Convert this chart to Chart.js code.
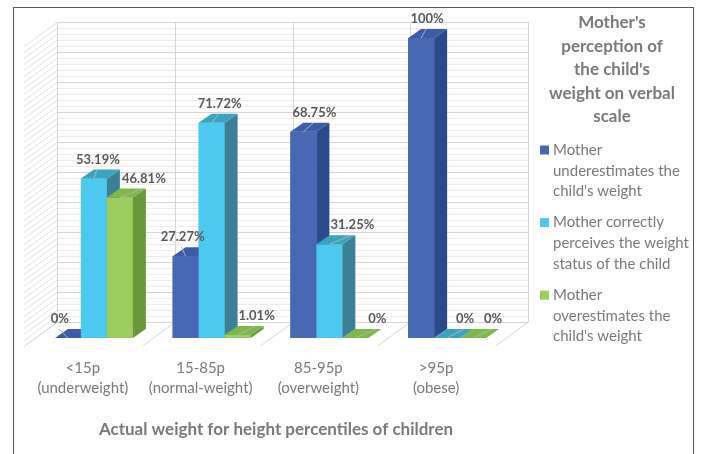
<!DOCTYPE html>
<html>
<head>
<meta charset="utf-8">
<script src="https://cdn.jsdelivr.net/npm/chart.js@4.4.1/dist/chart.umd.min.js"></script>
<style>
  html, body { margin: 0; padding: 0; background: #ffffff; }
  #chart { display: block; }
</style>
</head>
<body>
<canvas id="chart" width="701" height="454"></canvas>
<script>
/* --------------- Data --------------------- */
const categories = [
  ["<15p", "(underweight)"],
  ["15-85p", "(normal-weight)"],
  ["85-95p", "(overweight)"],
  [">95p", "(obese)"],
];
const underestimates = [0, 27.27, 68.75, 100];
const correctly = [53.19, 71.72, 31.25, 0];
const overestimates = [46.81, 1.01, 0, 0];
const seriesNames = [
  "Mother underestimates the child's weight",
  "Mother correctly perceives the weight status of the child",
  "Mother overestimates the child's weight",
];
const legendTitle = ["Mother's", "perception of", "the child's", "weight on verbal", "scale"];
const axisTitle = "Actual weight for height percentiles of children";

/* --------------- Look --------------------- */
const FONT = "Lato, 'Open Sans', sans-serif";
const GREY = "#7a7a7a";
const faces = [
  { front: "#4868b3", side: "#2b4a8c", top: "#3b5ca8" },
  { front: "#4dc8ef", side: "#3a8197", top: "#3ba2c0" },
  { front: "#9ccd5e", side: "#67983a", top: "#7db848" },
];
const FLOOR = { x: 33, y: -24 };   // full depth of floor / left wall
const FRONT = 1 / 3;               // where the bar fronts sit inside that depth
const BAR_DEPTH = { x: 13, y: -9 };
// horizontal nudge of each value label (per series, per category)
const labelShift = [[-8, -3, 11, 6], [4, 8, 23, 18], [24, 19, 22, 20]];

/* --------------- Back wall, left wall, floor --------------------- */
const wallsPlugin = {
  id: "walls",
  beforeDatasetsDraw(chart) {
    const { ctx, chartArea: a, scales: { x, y } } = chart;
    const bx = FLOOR.x * (1 - FRONT), by = FLOOR.y * (1 - FRONT);
    const step = a.width / categories.length;
    const left = a.left + bx, right = a.right + bx;
    ctx.save();
    ctx.lineWidth = 1;
    for (let v = 0; v <= 100; v += 2) {
      const yy = Math.round(y.getPixelForValue(v) + by) + 0.5;
      ctx.strokeStyle = v % 10 === 0 ? "#d6d6d6" : "#ececec";
      ctx.beginPath();
      ctx.moveTo(left, yy);
      ctx.lineTo(right, yy);
      ctx.stroke();
      ctx.strokeStyle = "#e2e2e2";
      ctx.beginPath();
      ctx.moveTo(left, yy);
      ctx.lineTo(left - FLOOR.x, yy - FLOOR.y);
      ctx.stroke();
    }
    const y0 = y.getPixelForValue(0) + by, y100 = y.getPixelForValue(100) + by;
    for (let k = 0; k <= categories.length; k++) {
      const xx = Math.round(a.left + k * step + bx) + 0.5;
      ctx.strokeStyle = "#d6d6d6";
      ctx.beginPath();
      ctx.moveTo(xx, y100);
      ctx.lineTo(xx, y0);
      ctx.stroke();
      ctx.beginPath();
      ctx.moveTo(xx, y0);
      ctx.lineTo(xx - FLOOR.x, y0 - FLOOR.y);
      ctx.stroke();
    }
    ctx.restore();
  },
  /* --------------- 3D bars and value labels --------------------- */
  afterDatasetsDraw(chart) {
    const { ctx, chartArea } = chart;
    ctx.save();
    chart.data.datasets.forEach((ds, d) => {
      const c = faces[d];
      chart.getDatasetMeta(d).data.forEach((bar) => {
        const { x, y, base, width } = bar.getProps(["x", "y", "base", "width"], true);
        const x0 = x - width / 2, x1 = x + width / 2;
        bar.draw(ctx, chartArea);
        ctx.fillStyle = c.side;
        ctx.beginPath();
        ctx.moveTo(x1, y);
        ctx.lineTo(x1 + BAR_DEPTH.x, y + BAR_DEPTH.y);
        ctx.lineTo(x1 + BAR_DEPTH.x, base + BAR_DEPTH.y);
        ctx.lineTo(x1, base);
        ctx.closePath();
        ctx.fill();
        ctx.fillStyle = c.top;
        ctx.beginPath();
        ctx.moveTo(x0, y);
        ctx.lineTo(x1, y);
        ctx.lineTo(x1 + BAR_DEPTH.x, y + BAR_DEPTH.y);
        ctx.lineTo(x0 + BAR_DEPTH.x, y + BAR_DEPTH.y);
        ctx.closePath();
        ctx.fill();
      });
    });
    ctx.font = "bold 13px " + FONT;
    ctx.textAlign = "center";
    ctx.textBaseline = "middle";
    chart.data.datasets.forEach((ds, d) => {
      chart.getDatasetMeta(d).data.forEach((bar, i) => {
        const { x, y } = bar.getProps(["x", "y"], true);
        const lx = x + labelShift[d][i], ly = y - 19;
        ctx.strokeStyle = "#b4b4b4";
        ctx.lineWidth = 1;
        ctx.beginPath();
        ctx.moveTo(x, y);
        ctx.lineTo(lx - 1, ly + 10);
        ctx.stroke();
        ctx.fillStyle = "#595959";
        ctx.fillText(ds.data[i] + "%", lx, ly);
      });
    });
    ctx.restore();
  },
  /* --------------- Legend, axis title, frame --------------------- */
  afterDraw(chart) {
    const { ctx, chartArea: a } = chart;
    ctx.save();
    ctx.fillStyle = GREY;
    ctx.textBaseline = "middle";
    ctx.textAlign = "center";
    ctx.font = "bold 17px " + FONT;
    ctx.fillText(axisTitle, (a.left - FLOOR.x * FRONT + a.right + FLOOR.x * (1 - FRONT)) / 2, 430);

    ctx.font = "bold 17px " + FONT;
    legendTitle.forEach((line, i) => ctx.fillText(line, 612, 23 + i * 23.5));

    ctx.font = "15px " + FONT;
    ctx.textAlign = "left";
    let top = 150;
    chart.data.datasets.forEach((ds, d) => {
      const words = ds.label.split(" ");
      const lines = [];
      let cur = "";
      words.forEach((w) => {
        const t = cur ? cur + " " + w : w;
        if (cur && ctx.measureText(t).width > 138) { lines.push(cur); cur = w; } else cur = t;
      });
      lines.push(cur);
      ctx.fillStyle = faces[d].front;
      ctx.fillRect(540, top - 4.5, 9, 9);
      ctx.fillStyle = GREY;
      lines.forEach((l, j) => ctx.fillText(l, 553, top + j * 20.7));
      top += lines.length * 20.7 + 10.5;
    });

    ctx.strokeStyle = "#595959";
    ctx.lineWidth = 1;
    ctx.strokeRect(13.5, 7.5, 680, 460);
    ctx.restore();
  },
};

/* --------------- Chart --------------------- */
new Chart(document.getElementById("chart"), {
  type: "bar",
  plugins: [wallsPlugin],
  data: {
    labels: categories,
    datasets: [
      { label: seriesNames[0], data: underestimates, backgroundColor: faces[0].front },
      { label: seriesNames[1], data: correctly, backgroundColor: faces[1].front },
      { label: seriesNames[2], data: overestimates, backgroundColor: faces[2].front },
    ],
  },
  options: {
    responsive: false,
    animation: false,
    devicePixelRatio: 1,
    layout: { padding: { left: 35, right: 195, top: 38, bottom: 0 } },
    datasets: { bar: { categoryPercentage: 0.662, barPercentage: 1, borderWidth: 0 } },
    plugins: { legend: { display: false }, tooltip: { enabled: false } },
    scales: {
      x: {
        grid: { display: false, drawTicks: false },
        border: { display: false },
        ticks: {
          color: GREY,
          font: { family: FONT, size: 15, lineHeight: "20px" },
          padding: 20,
          labelOffset: -11,
          maxRotation: 0,
          autoSkip: false,
        },
        afterFit(scale) { scale.height = 116; },
      },
      y: { display: false, min: 0, max: 100 },
    },
  },
});
</script>
</body>
</html>
